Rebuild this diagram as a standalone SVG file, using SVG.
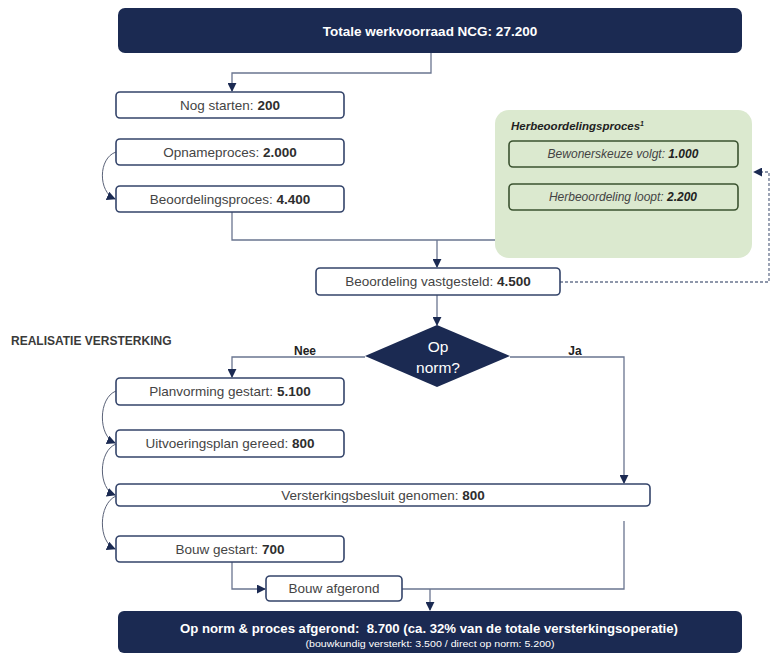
<svg xmlns="http://www.w3.org/2000/svg" width="771" height="655" viewBox="0 0 771 655">
<defs>
<style>
.dark{fill:#1b2a52;}
.box{fill:#ffffff;stroke:#34446a;stroke-width:1.6;}
.gbox{fill:#dbe9cf;stroke:#3b5330;stroke-width:1.6;}
.t{font-family:"Liberation Sans",Arial,sans-serif;font-size:13.5px;fill:#444444;text-anchor:middle;}
.b{font-weight:bold;fill:#2e2e2e;}
.w{font-family:"Liberation Sans",Arial,sans-serif;fill:#ffffff;text-anchor:middle;font-weight:bold;}
.wn{font-family:"Liberation Sans",Arial,sans-serif;fill:#ffffff;text-anchor:middle;}
.gi{font-family:"Liberation Sans",Arial,sans-serif;font-size:12px;fill:#444444;text-anchor:middle;font-style:italic;}
.ln{fill:none;stroke:#6a7590;stroke-width:1.3;}
.cv{fill:none;stroke:#5a6278;stroke-width:1;}
.lbl{font-family:"Liberation Sans",Arial,sans-serif;font-size:12px;font-weight:bold;fill:#222222;text-anchor:middle;}
</style>
<marker id="ah" viewBox="0 0 10 10" refX="9" refY="5" markerWidth="9" markerHeight="9" markerUnits="userSpaceOnUse" orient="auto">
<path d="M0,0 L10,5 L0,10 z" fill="#1b2a52"/>
</marker>
</defs>
<rect width="771" height="655" fill="#ffffff"/>

<g id="connectors">
<path class="ln" d="M431,53 V73 H232 V91" marker-end="url(#ah)"/>
<path class="cv" d="M116,152 C98,158 98,192 115,199" marker-end="url(#ah)"/>
<path class="ln" d="M232,212 V240 H625 V211"/>
<path class="ln" d="M437,240 V267" marker-end="url(#ah)"/>
<path class="ln" d="M560,282 H769 V172 H754" stroke-dasharray="3,2" marker-end="url(#ah)"/>
<path class="ln" d="M437,295 V325" marker-end="url(#ah)"/>
<path class="ln" d="M365,357 H232 V377" marker-end="url(#ah)"/>
<path class="ln" d="M510,357 H624 V483" marker-end="url(#ah)"/>
<path class="cv" d="M116,391 C98,398 98,436 115,443" marker-end="url(#ah)"/>
<path class="cv" d="M116,444 C98,451 98,489 115,495" marker-end="url(#ah)"/>
<path class="cv" d="M116,496 C98,504 98,542 115,549" marker-end="url(#ah)"/>
<path class="ln" d="M232,562 V589 H265" marker-end="url(#ah)"/>
<path class="ln" d="M402,589 H624 V521"/>
<path class="ln" d="M430,589 V610" marker-end="url(#ah)"/>
</g>

<g id="total">
<rect class="dark" x="118" y="8" width="624" height="45" rx="7"/>
<text class="w" x="430" y="36" font-size="13.5">Totale werkvoorraad NCG: 27.200</text>
</g>

<g id="nog-starten">
<rect class="box" x="116" y="92" width="228" height="26" rx="4"/>
<text class="t" x="230" y="110">Nog starten: <tspan class="b">200</tspan></text>
</g>

<g id="opnameproces">
<rect class="box" x="116" y="139" width="228" height="26" rx="4"/>
<text class="t" x="230" y="157">Opnameproces: <tspan class="b">2.000</tspan></text>
</g>

<g id="beoordelingsproces">
<rect class="box" x="116" y="186" width="228" height="26" rx="4"/>
<text class="t" x="230" y="204">Beoordelingsproces: <tspan class="b">4.400</tspan></text>
</g>

<g id="herbeoordelingsproces">
<rect x="495" y="110" width="257" height="148" rx="14" fill="#dbe9cf"/>
<text x="511" y="130" font-family="'Liberation Sans',Arial,sans-serif" font-size="11.5" font-weight="bold" font-style="italic" fill="#222222">Herbeoordelingsproces<tspan font-size="7" dy="-4">1</tspan></text>
</g>

<g id="bewonerskeuze">
<rect class="gbox" x="509" y="141" width="229" height="26" rx="4"/>
<text class="gi" x="623" y="158">Bewonerskeuze volgt: <tspan font-weight="bold" fill="#222222">1.000</tspan></text>
</g>

<g id="herbeoordeling-loopt">
<rect class="gbox" x="509" y="184" width="229" height="26" rx="4"/>
<text class="gi" x="623" y="201">Herbeoordeling loopt: <tspan font-weight="bold" fill="#222222">2.200</tspan></text>
</g>

<g id="beoordeling-vastgesteld">
<rect class="box" x="316" y="268" width="244" height="27" rx="4"/>
<text class="t" x="438" y="286">Beoordeling vastgesteld: <tspan class="b">4.500</tspan></text>
</g>

<g id="op-norm">
<path class="dark" d="M437,325 L510,356 L437,387 L365,356 z"/>
<text class="wn" x="438" y="352" font-size="15.5">Op</text>
<text class="wn" x="438" y="373" font-size="15.5">norm?</text>
</g>

<g id="labels">
<text x="11" y="345" font-family="'Liberation Sans',Arial,sans-serif" font-size="12" font-weight="bold" fill="#3a3a3a">REALISATIE VERSTERKING</text>
<text class="lbl" x="305" y="355">Nee</text>
<text class="lbl" x="575" y="355">Ja</text>
</g>

<g id="planvorming">
<rect class="box" x="116" y="378" width="228" height="27" rx="4"/>
<text class="t" x="230" y="396">Planvorming gestart: <tspan class="b">5.100</tspan></text>
</g>

<g id="uitvoeringsplan">
<rect class="box" x="116" y="430" width="228" height="27" rx="4"/>
<text class="t" x="230" y="448">Uitvoeringsplan gereed: <tspan class="b">800</tspan></text>
</g>

<g id="versterkingsbesluit">
<rect class="box" x="116" y="484" width="534" height="22" rx="4"/>
<text class="t" x="383" y="500">Versterkingsbesluit genomen: <tspan class="b">800</tspan></text>
</g>

<g id="bouw-gestart">
<rect class="box" x="116" y="536" width="228" height="26" rx="4"/>
<text class="t" x="230" y="554">Bouw gestart: <tspan class="b">700</tspan></text>
</g>

<g id="bouw-afgerond">
<rect class="box" x="266" y="576" width="136" height="25" rx="4"/>
<text class="t" x="334" y="593">Bouw afgerond</text>
</g>

<g id="afgerond">
<rect class="dark" x="118" y="611" width="624" height="42" rx="6"/>
<text class="w" x="429" y="633" font-size="12.5" textLength="498" lengthAdjust="spacingAndGlyphs">Op norm &amp; proces afgerond:&#160; 8.700 (ca. 32% van de totale versterkingsoperatie)</text>
<text class="wn" x="430" y="647" font-size="9" textLength="249" lengthAdjust="spacingAndGlyphs">(bouwkundig versterkt: 3.500 / direct op norm: 5.200)</text>
</g>
</svg>
